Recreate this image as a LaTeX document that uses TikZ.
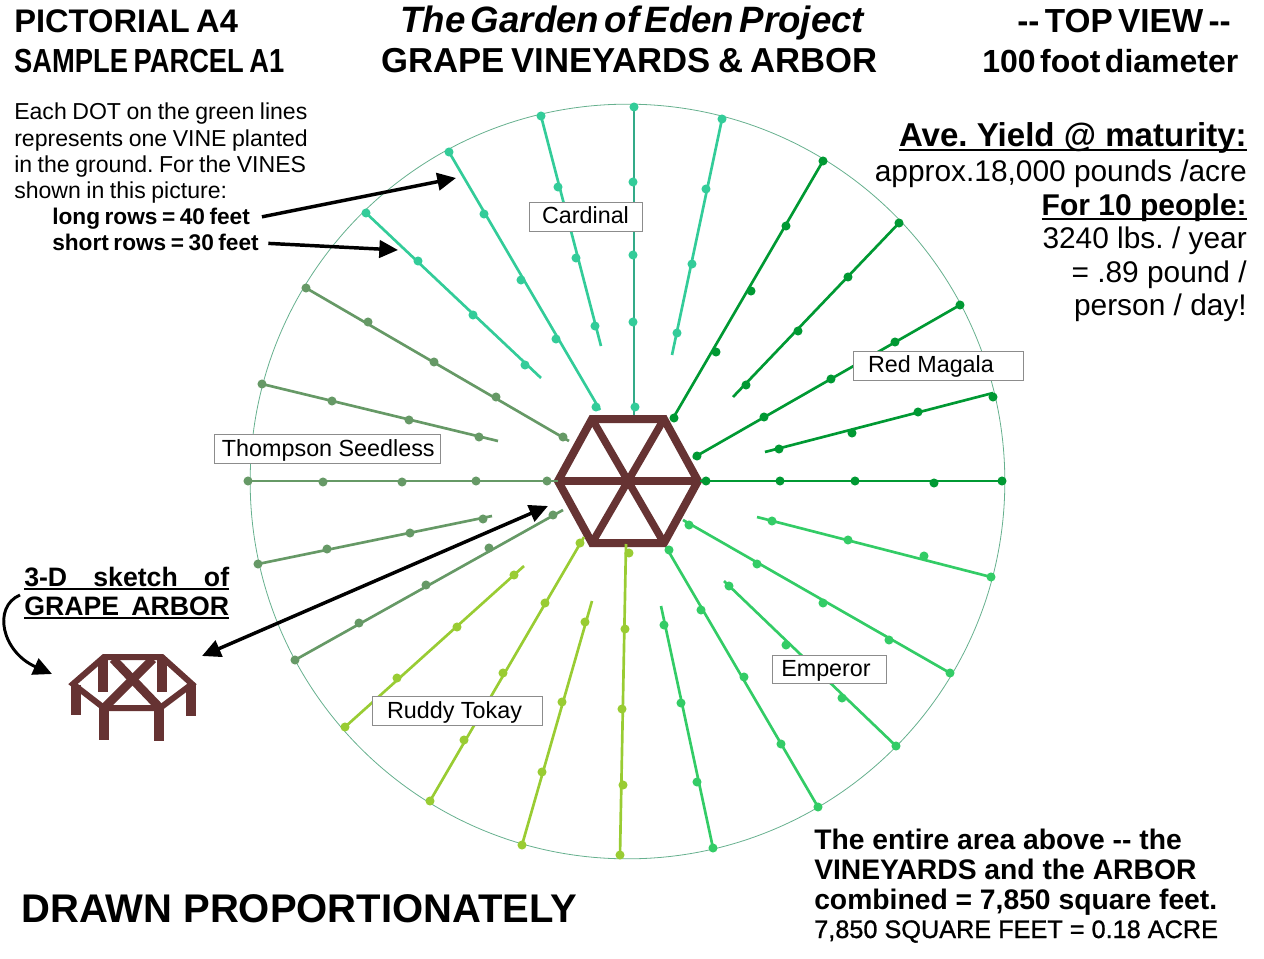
\documentclass[tikz,border=0pt]{standalone}
\usepackage{fontspec}
\setmainfont{Liberation Sans}
\usetikzlibrary{arrows.meta, positioning}

\definecolor{arborbrown}{HTML}{663333}
\definecolor{ringgreen}{HTML}{66B08E}
\definecolor{cardinalgreen}{HTML}{33CC99}
\definecolor{cardinaldark}{HTML}{33AA88}
\definecolor{magalagreen}{HTML}{009933}
\definecolor{emperorgreen}{HTML}{33CC66}
\definecolor{tokayyellow}{HTML}{99CC33}
\definecolor{thompsongreen}{HTML}{669966}

\newcommand{\fsize}[1]{\fontsize{#1}{#1}\selectfont}
\newcommand{\tightsp}[1]{\spaceskip=#1em\relax}
\newcommand{\heavyul}[1]{\leavevmode\setbox0=\hbox{#1}\rlap{\rule[-3pt]{\wd0}{1.7pt}}\box0}
\newcommand{\vinerow}[4]{%
  \draw[vineline, #1] #2 -- #3;
  \foreach \p in {#4} \fill[#1] \p circle (3.4pt);
}

\tikzset{
  vineline/.style={line width=2pt},
  txt/.style={inner sep=0pt, anchor=base west},
  txtr/.style={inner sep=0pt, anchor=base east},
  notetxt/.style={txt, font=\fsize{17.3}\tightsp{.24}},
  rowtxt/.style={txt, font=\fsize{17}\bfseries\tightsp{.2}},
  yieldtxt/.style={txtr, font=\fsize{22.4}},
  areatxt/.style={txt, font=\fsize{21.2}\bfseries},
  namebox/.style={draw=black!45, fill=white, line width=0.6pt, inner sep=0pt,
    minimum height=21.5pt, text height=13pt, text depth=2.5pt, font=\fsize{17.5}},
  hexbar/.style={draw=arborbrown, line width=5.6pt},
  bigarrow/.style={line width=2.6pt, -{Triangle[length=14pt, width=13pt]}},
  roofbar/.style={draw=arborbrown, line width=4.5pt},
  arborpost/.style={draw=arborbrown, line width=7.5pt}
}

\begin{document}
\frenchspacing
\begin{tikzpicture}[x=0.75pt, y=-0.75pt]
  \useasboundingbox (0,0) rectangle (1264,959);

  % headings
  \node[txt, font=\fsize{24.5}\bfseries\tightsp{.2}] (pictorial) at (14,33) {PICTORIAL A4};
  \node[txt, font=\fsize{25}\bfseries\tightsp{.2}, xscale=0.82] (parcel) at (14,73) {SAMPLE PARCEL A1};
  \node[txt, font=\fsize{27.5}\bfseries\itshape\tightsp{.148}] (eden) at (400,33) {The Garden of Eden Project};
  \node[txt, font=\fsize{26}\bfseries\tightsp{.21}] (vineyards) at (381,73) {GRAPE VINEYARDS \& ARBOR};
  \node[txt, font=\fsize{25}\bfseries\tightsp{.16}] (topview) at (1017,33) {-{}- TOP VIEW -{}-};
  \node[txt, font=\fsize{24}\bfseries\tightsp{.14}] (diameter) at (982,73) {100 foot diameter};

  % note on the left
  \node[notetxt] (note1) at (14,120) {Each DOT on the green lines};
  \node[notetxt] (note2) at (14,147) {represents one VINE planted};
  \node[notetxt] (note3) at (14,173) {in the ground. For the VINES};
  \node[notetxt] (note4) at (14,199) {shown in this picture:};
  \node[rowtxt] (longrows) at (52,225) {long rows = 40 feet};
  \node[rowtxt] (shortrows) at (52,251) {short rows = 30 feet};

  % yield figures
  \node[txtr, font=\fsize{24.8}\bfseries] (yield) at (1247,147) {\heavyul{Ave. Yield @ maturity:}};
  \node[yieldtxt] (approx) at (1247,182) {approx.18,000 pounds /acre};
  \node[txtr, font=\fsize{22.5}\bfseries] (people) at (1247,216) {\heavyul{For 10 people:}};
  \node[yieldtxt] (pounds) at (1247,249) {3240 lbs. / year};
  \node[yieldtxt] (perday1) at (1247,283) {= .89 pound /};
  \node[yieldtxt] (perday2) at (1247,316) {person / day!};

  % bottom texts
  \node[areatxt] (area1) at (814,849) {The entire area above -{}- the};
  \node[areatxt] (area2) at (814,879) {VINEYARDS and the ARBOR};
  \node[areatxt] (area3) at (814,909) {combined = 7,850 square feet.};
  \node[txt, font=\fsize{18.95}\addfontfeature{FakeBold=1}] (area4) at (814,938) {7,850 SQUARE FEET = 0.18 ACRE};
  \node[txt, font=\fsize{30}\bfseries] (drawn) at (21,922) {DRAWN PROPORTIONATELY};

  \node[txt, font=\fsize{20}\bfseries] (sketch) at (24,586) {\heavyul{\hbox to 153.7pt{3-D\hfill sketch\hfill of}}};
  \node[txt, font=\fsize{20}\bfseries] (grape) at (24,615) {\heavyul{\hbox to 153.7pt{GRAPE\hfill ARBOR}}};

  % the circle
  \node[circle, draw=ringgreen, line width=0.6pt, minimum size=566pt, inner sep=0pt] (ring) at (627.5,481.5) {};

  % hexagon
  \coordinate (hexc) at (628,481);
  \coordinate (hexl) at (558,481);
  \coordinate (hexr) at (698,481);
  \coordinate (hextl) at (592,419);
  \coordinate (hextr) at (664,419);
  \coordinate (hexbl) at (592,543);
  \coordinate (hexbr) at (664,543);
  \draw[hexbar, line width=6pt] (hexl) -- (hextl) -- (hextr) -- (hexr) -- (hexbr) -- (hexbl) -- cycle;
  \draw[hexbar] (hexl) -- (hexr);
  \draw[hexbar] (hextl) -- (hexbr);
  \draw[hexbar] (hextr) -- (hexbl);

  % cardinal
  \draw[vineline, cardinaldark] (634,107) -- (634,415);
  \foreach \p in {(634,107),(633,182),(633,255),(633,322),(635,407)} \fill[cardinalgreen] \p circle (3.4pt);
  \vinerow{cardinalgreen}{(541,116)}{(601,346)}{(541,116),(558,187),(576,258),(595,326)}
  \vinerow{cardinalgreen}{(449,152)}{(600,410)}{(449,152),(484,214),(521,280),(556,339),(596,407)}
  \vinerow{cardinalgreen}{(366,213)}{(541,378)}{(366,213),(418,261),(473,315),(525,365)}
  \vinerow{cardinalgreen}{(722,119)}{(672,355)}{(722,119),(706,189),(692,264),(677,333)}

  % red magala
  \vinerow{magalagreen}{(823,161)}{(672,420)}{(823,161),(786,226),(751,291),(716,352),(674,418)}
  \vinerow{magalagreen}{(899,223)}{(733,397)}{(899,223),(848,277),(798,331),(746,385)}
  \vinerow{magalagreen}{(960,305)}{(693,458)}{(960,305),(895,342),(831,379),(764,417),(697,456)}
  \vinerow{magalagreen}{(993,393)}{(765,452)}{(993,397),(918,412),(852,433),(779,449)}
  \vinerow{magalagreen}{(1002,481)}{(700,481)}{(1002,481),(934,483),(855,481),(780,481),(706,481)}

  % emperor
  \vinerow{emperorgreen}{(991,577)}{(757,517)}{(991,577),(924,556),(848,540),(772,521)}
  \vinerow{emperorgreen}{(950,673)}{(683,520)}{(950,673),(889,640),(823,603),(757,564),(689,525)}
  \vinerow{emperorgreen}{(896,746)}{(724,581)}{(896,746),(842,698),(786,645),(729,586)}
  \vinerow{emperorgreen}{(818,807)}{(666,547)}{(818,807),(781,744),(744,677),(701,610),(669,550)}
  \vinerow{emperorgreen}{(713,848)}{(661,606)}{(713,848),(697,782),(681,703),(664,625)}

  % ruddy tokay
  \vinerow{tokayyellow}{(620,855)}{(626,544)}{(620,855),(623,785),(622,709),(625,629),(629,553)}
  \vinerow{tokayyellow}{(522,845)}{(592,601)}{(522,845),(542,772),(562,702),(585,622)}
  \vinerow{tokayyellow}{(430,801)}{(584,537)}{(430,801),(464,740),(503,673),(545,603),(580,543)}
  \vinerow{tokayyellow}{(345,727)}{(524,566)}{(345,727),(397,678),(457,627),(514,575)}

  % thompson seedless
  \vinerow{thompsongreen}{(295,660)}{(563,510)}{(295,660),(359,623),(426,585),(489,548),(553,515)}
  \vinerow{thompsongreen}{(258,564)}{(492,516)}{(258,564),(327,549),(410,533),(483,519)}
  \vinerow{thompsongreen}{(248,481)}{(558,481)}{(248,481),(323,482),(402,482),(476,481),(547,481)}
  \vinerow{thompsongreen}{(262,384)}{(498,441)}{(262,384),(332,401),(409,420),(479,437)}
  \vinerow{thompsongreen}{(306,288)}{(569,441)}{(306,288),(368,322),(434,362),(496,397),(563,437)}

  % names of the vines
  \node[namebox, minimum width=84.7pt] (cardinal) at (585.5,217) {Cardinal};
  \node[namebox, minimum width=127.5pt] (magala) at (938,366) {\kern-10.5pt Red Magala};
  \node[namebox, minimum width=169.5pt] (thompson) at (327,449) {\kern2pt Thompson Seedless};
  \node[namebox, minimum width=85.5pt] (emperor) at (829,669.5) {\kern-4.5pt Emperor};
  \node[namebox, minimum width=127pt] (tokay) at (457.5,711) {\kern-4.5pt Ruddy Tokay};

  % 3-D arbor
  \coordinate (roofl) at (73,684);
  \coordinate (roofr) at (192,684);
  \coordinate (backl) at (104,657);
  \coordinate (backr) at (162,657);
  \coordinate (frontl) at (104,708);
  \coordinate (frontr) at (160,708);
  \draw[roofbar] (roofl) -- (backl) -- (backr) -- (roofr) -- (frontr) -- (frontl) -- cycle;
  \draw[arborpost, line width=6.5pt] (113,659) -- (frontr);
  \draw[arborpost, line width=6.5pt] (153,659) -- (frontl);
  \draw[arborpost] (76,685) -- (76,715);
  \draw[arborpost] (191,685) -- (191,716);
  \draw[arborpost] (103,660) -- (103,692);
  \draw[arborpost] (162,660) -- (162,692);
  \draw[arborpost] (104,708) -- (104,740);
  \draw[arborpost] (159,708) -- (159,741);

  % arrows
  \coordinate (longtip) at (456,178);
  \coordinate (shorttip) at (398,250);
  \coordinate (sketchend) at (20,595);
  \coordinate (arbortip) at (52,674);
  \coordinate (sidetip) at (202,656);
  \coordinate (hextip) at (548,506);
  \draw[bigarrow, shorten <=9pt] (longrows.east) -- (longtip);
  \draw[bigarrow, shorten <=7pt] (shortrows.east) -- (shorttip);
  \draw[bigarrow, {Triangle[length=14pt, width=13pt]}-{Triangle[length=14pt, width=13pt]}] (sidetip) -- (hextip);
  \draw[bigarrow, line width=2.2pt] (sketchend) .. controls (-8,607) and (2,652) .. (arbortip);
\end{tikzpicture}
\end{document}
